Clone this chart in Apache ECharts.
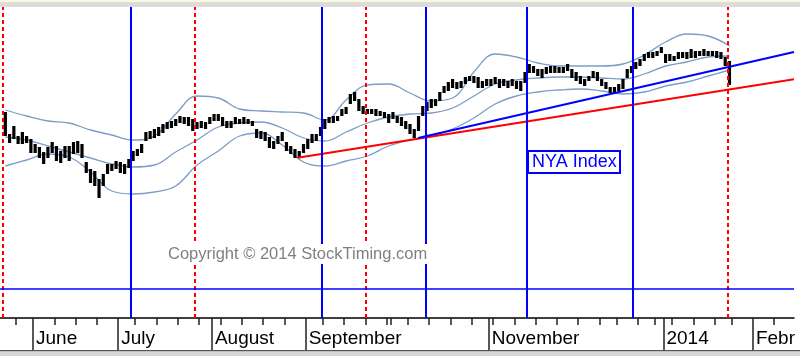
<!DOCTYPE html>
<html><head><meta charset="utf-8">
<script src="https://cdn.jsdelivr.net/npm/echarts@6/dist/echarts.min.js"></script>
<style>html,body{margin:0;padding:0;background:#fff}#c{width:800px;height:356px}</style>
</head><body><div id="c"></div>
<script>
// Daily high/low of the NYSE Composite (NYA), trading-day index 0 = 22 May 2013
const priceHigh = [
9800,9580,9660,9560,9600,9560,9530,9480,9450,9400,
9450,9500,9460,9410,9460,9460,9500,9510,9480,9300,
9230,9210,9130,9180,9280,9280,9310,9300,9280,9330,
9410,9430,9480,9600,9610,9630,9650,9680,9700,9710,
9730,9760,9750,9750,9730,9700,9710,9700,9750,9780,
9780,9750,9710,9710,9750,9730,9750,9730,9710,9630,
9610,9600,9550,9510,9560,9600,9500,9460,9430,9410,
9480,9530,9580,9580,9650,9730,9750,9760,9760,9830,
9850,9980,10000,9930,9860,9830,9830,9830,9810,9800,
9780,9800,9760,9750,9710,9680,9630,9760,9860,9900,
9930,9930,10000,10060,10100,10130,10100,10110,10150,10160,
10160,10150,10110,10130,10130,10150,10130,10130,10110,10130,
10110,10110,10200,10280,10260,10230,10230,10250,10260,10260,
10250,10250,10280,10230,10200,10160,10130,10160,10210,10200,
10130,10100,10050,10050,10080,10130,10230,10260,10300,10330,
10380,10400,10400,10410,10450,10380,10380,10360,10400,10400,
10400,10430,10410,10410,10430,10410,10410,10410,10400,10350,10310];
const priceLow = [
9580,9510,9550,9500,9500,9510,9410,9410,9360,9300,
9360,9410,9330,9310,9360,9330,9400,9410,9360,9210,
9110,9080,8960,9080,9200,9230,9250,9210,9200,9260,
9330,9380,9410,9530,9550,9560,9580,9610,9650,9660,
9680,9710,9700,9680,9630,9650,9660,9650,9700,9730,
9730,9680,9660,9660,9700,9700,9700,9700,9680,9560,
9550,9530,9460,9450,9500,9530,9430,9400,9360,9360,
9410,9450,9510,9530,9580,9650,9710,9710,9730,9780,
9800,9900,9930,9830,9800,9800,9800,9780,9780,9760,
9710,9750,9710,9680,9650,9600,9560,9630,9780,9830,
9860,9880,9930,10010,10030,10060,10050,10060,10100,10130,
10110,10060,10060,10080,10080,10100,10060,10080,10060,10080,
10050,10030,10110,10210,10210,10180,10160,10200,10210,10210,
10210,10210,10230,10160,10130,10100,10080,10130,10160,10130,
10080,10050,10010,10000,10030,10050,10160,10210,10250,10280,
10330,10360,10360,10380,10410,10310,10330,10330,10350,10360,
10350,10360,10360,10380,10380,10380,10380,10360,10350,10280,10090];

// Bollinger bands, read every 5 trading days
const bandIdx = [0,5,10,15,20,25,30,35,40,45,50,55,60,65,70,75,80,85,90,95,100,105,110,115,120,125,130,135,140,145,150,155,160,165,170];
const bandUpper = [9830,9770,9720,9700,9630,9580,9530,9570,9790,9970,9950,9840,9820,9810,9800,9730,9930,10080,10090,10000,9920,9950,10210,10390,10360,10300,10270,10270,10270,10290,10380,10510,10590,10570,10470];
const bandMiddle = [9560,9530,9470,9410,9350,9290,9260,9280,9410,9530,9660,9700,9710,9650,9550,9520,9610,9700,9760,9790,9800,9850,9970,10090,10130,10150,10160,10160,10150,10140,10190,10270,10310,10360,10370];
const bandLower = [9270,9330,9390,9360,9210,9020,8990,9010,9070,9280,9420,9570,9600,9480,9310,9270,9320,9370,9470,9530,9570,9640,9750,9890,9970,10010,10030,10040,10020,9990,10010,10070,10110,10170,10230];

// Axis: month starts (trading-day index) and labels, weekly ticks
const monthStarts = [7,27,49,71,114,155,176];
const monthLabels = ['June','July','August','September','November','2014','Febr'];
const weekTicks = [3,12,17,22,31,36,41,46,51,56,61,66,75,80,85,90,91,95,100,105,110,115,120,125,130,135,140,144,149,153,157,162,167,171,181];

// Cycle markers and trend lines
const blueCycles = [29.34,74.35,98.6,122.5,147.4];
const redCycles = [-0.54,44.4,84.7,169.5];
const redTrend = [[68.6,9353],[185.15,10137]];
const blueTrend = [[96.9,9550],[185.15,10410]];
const supportLevel = 8040;

const X_MIN = -1.25, X_MAX = 185.15;
const FONT = 'Liberation Sans, Arial, sans-serif';

function labelFor(v){
  const k = monthStarts.findIndex(m => Math.abs(m - 0.5 - v) < 1e-6);
  return k >= 0 ? monthLabels[k] : '';
}
function band(vals){ return bandIdx.map((x,k)=>[x, vals[k]]); }

const chart = echarts.init(document.getElementById('c'), null, {renderer:'canvas'});
const bandStyle = {color:'#7c9dc8', width:1.3};

const markData = []
  .concat(blueCycles.map(x => ({xAxis:x, lineStyle:{color:'#0000ff', width:2, type:'solid'}})))
  .concat(redCycles.map(x => ({xAxis:x, lineStyle:{color:'#ff0000', width:2, type:[4,3]}})))
  .concat([{yAxis:supportLevel, lineStyle:{color:'#0000ff', width:1.5, type:'solid'}}]);

chart.setOption({
  animation:false,
  backgroundColor:'#ffffff',
  grid:{left:0, right:6, top:7, bottom:38, containLabel:false},
  xAxis:[
    {type:'value', min:X_MIN, max:X_MAX, position:'bottom', splitLine:{show:false},
     axisLine:{show:true, onZero:false, lineStyle:{color:'#000', width:1.5}},
     axisTick:{show:true, customValues:monthStarts.map(m=>m-0.5), length:32, lineStyle:{color:'#222', width:1.5}},
     axisLabel:{show:true, customValues:monthStarts.map(m=>m-0.5), formatter:labelFor, align:'left',
       padding:[0,0,0,3], margin:11, fontSize:19, fontFamily:FONT, color:'#000', verticalAlign:'top', hideOverlap:false}},
    {type:'value', min:X_MIN, max:X_MAX, position:'bottom', splitLine:{show:false},
     axisLine:{show:false, onZero:false},
     axisTick:{show:true, customValues:weekTicks.map(k=>k-0.5), length:7, lineStyle:{color:'#222', width:1.5}},
     axisLabel:{show:false}}
  ],
  yAxis:{type:'value', min:7750, max:10860, show:false, splitLine:{show:false}},
  title:[
    {text:'NYA Index', left:528, top:151, padding:[2,4], borderColor:'#0000ff', borderWidth:2, backgroundColor:'#fff',
     textStyle:{color:'#0000ff', fontSize:18, fontWeight:'normal', fontFamily:FONT, lineHeight:18}},
    {text:'Copyright \u00a9 2014 StockTiming.com', left:168, top:244, padding:[1,0], backgroundColor:'#fff',
     textStyle:{color:'#808080', fontSize:16.5, fontWeight:'normal', fontFamily:FONT, lineHeight:18}}
  ],
  graphic:[
    {type:'rect', shape:{x:0,y:0,width:800,height:2}, style:{fill:'#fbf9dc'}, silent:true},
    {type:'rect', shape:{x:0,y:2,width:800,height:5}, style:{fill:'#dcdcdc'}, silent:true},
    {type:'rect', shape:{x:0,y:350,width:800,height:1.5}, style:{fill:'#555'}, silent:true},
    {type:'rect', shape:{x:0,y:351.5,width:800,height:5}, style:{fill:'#d6d6d6'}, silent:true}
  ],
  series:[
    {type:'line', name:'upper', data:band(bandUpper), showSymbol:false, smooth:0.4, lineStyle:bandStyle, z:2, silent:true},
    {type:'line', name:'middle', data:band(bandMiddle), showSymbol:false, smooth:0.4, lineStyle:bandStyle, z:2, silent:true},
    {type:'line', name:'lower', data:band(bandLower), showSymbol:false, smooth:0.4, lineStyle:bandStyle, z:2, silent:true},
    {type:'custom', name:'NYA', z:3, silent:true,
     data:priceHigh.map((h,i)=>[i, priceLow[i], h]),
     encode:{x:0, y:[1,2]},
     renderItem:function(params, api){
       const i = api.value(0), lo = api.value(1), hi = api.value(2);
       const t = api.coord([i, hi]), b = api.coord([i, lo]);
       return {type:'rect', shape:{x:t[0]-1.6, y:t[1]-1, width:3.2, height:Math.max(b[1]-t[1], 2)+2}, style:{fill:'#000'}};
     }},
    {type:'line', name:'redTrend', data:redTrend, showSymbol:false, lineStyle:{color:'#ff0000', width:2}, z:4, silent:true},
    {type:'line', name:'blueTrend', data:blueTrend, showSymbol:false, lineStyle:{color:'#0000ff', width:2}, z:4, silent:true},
    {type:'line', name:'markers', data:[], z:5, silent:true,
     markLine:{silent:true, symbol:['none','none'], label:{show:false}, animation:false, data:markData}}
  ]
});
</script></body></html>
